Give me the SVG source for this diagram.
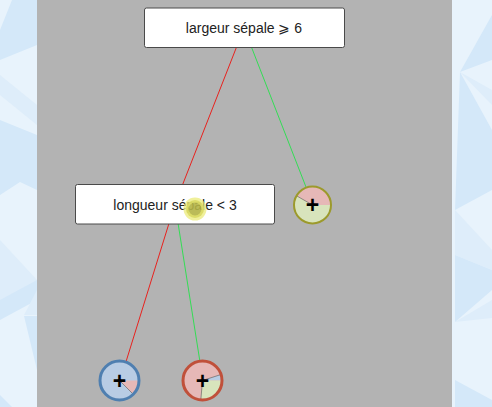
<svg xmlns="http://www.w3.org/2000/svg" width="492" height="407" viewBox="0 0 492 407">
<defs>
<style>
.bg1{fill:#e8f3fc}
.bg2{fill:#d4e8f9}
.bg3{fill:#deedfa}
.box{fill:#ffffff;stroke:#4a4a4a;stroke-width:1}
.lbl{font-family:"Liberation Sans",Arial,sans-serif;font-size:14px;fill:#222;text-anchor:middle}
.plus{font-family:"Liberation Sans",Arial,sans-serif;font-size:23px;font-weight:bold;fill:#000;text-anchor:middle}
.link{fill:none;stroke-width:1}
.sep{stroke:#555;stroke-width:0.6}
</style>
</defs>
<rect x="0" y="0" width="492" height="407" class="bg1"/>
<polygon class="bg2" points="37,0 12,0 0,30 0,60 37,45"/>
<polygon class="bg3" points="0,75 37,105 37,125 0,95"/>
<polygon class="bg2" points="0,120 37,135 37,190 20,182 0,195"/>
<polygon class="bg3" points="0,240 37,280 37,300 0,300"/>
<polygon class="bg2" points="0,300 37,280 37,300 0,320"/>
<polygon class="bg3" points="37,290 24,315 37,315"/>
<polygon class="bg2" points="24,316 37,316 37,370"/>
<polygon class="bg2" points="0,395 12,407 0,407"/>
<polygon class="bg2" points="492,15 460,72 492,60"/>
<polygon class="bg3" points="460,72 492,90 492,105"/>
<polygon class="bg2" points="460,72 455,210 492,190 492,130"/>
<polygon class="bg3" points="455,210 492,250 492,270 455,255"/>
<polygon class="bg2" points="455,255 492,270 492,290 455,322"/>
<polygon class="bg3" points="455,322 492,300 492,318"/>
<polygon class="bg2" points="455,380 492,400 492,407 455,407"/>
<rect x="37" y="0" width="415" height="407" fill="#b3b3b3"/>
<g id="connectors">
<line class="link" x1="244" y1="28" x2="175" y2="204" stroke="#e8221e"/>
<line class="link" x1="244" y1="28" x2="313" y2="205" stroke="#33dd55"/>
<line class="link" x1="175" y1="204" x2="120" y2="381" stroke="#e8221e"/>
<line class="link" x1="175" y1="204" x2="203" y2="381" stroke="#33dd55"/>
</g>
<g id="node-root">
<rect class="box" x="144.5" y="8" width="200" height="39.5" rx="2"/>
<text class="lbl" x="244" y="33">largeur sépale ⩾ 6</text>
</g>
<g id="node-left">
<rect class="box" x="75.5" y="184.5" width="199" height="39.5" rx="2"/>
<text class="lbl" x="175" y="210">longueur sépale &lt; 3</text>
</g>
<g id="leaf-right">
<circle cx="312.5" cy="205" r="18.5" fill="#d8e4bc"/>
<path d="M312.5,205 L296.5,195.75 A18.5,18.5 0 0 1 331,205 Z" fill="#e6b8b7"/>
<line class="sep" x1="312.5" y1="205" x2="296.5" y2="195.75"/>
<circle cx="312.5" cy="205" r="18.5" fill="none" stroke="#9c9a2c" stroke-width="2"/>
<text class="plus" x="312.5" y="213">+</text>
</g>
<g id="leaf-bl">
<circle cx="119.5" cy="380.5" r="19.5" fill="#b8cce4"/>
<path d="M119.5,380.5 L139,380.5 A19.5,19.5 0 0 1 133.3,394.3 Z" fill="#e6b8b7"/>
<line class="sep" x1="119.5" y1="380.5" x2="133.3" y2="394.3"/>
<circle cx="119.5" cy="380.5" r="19.5" fill="none" stroke="#4f7fb0" stroke-width="3"/>
<text class="plus" x="119.5" y="388.5">+</text>
</g>
<g id="leaf-br">
<circle cx="202.5" cy="380.5" r="19.5" fill="#e6b8b7"/>
<path d="M202.5,380.5 L221,374.5 A19.5,19.5 0 0 1 222,380.5 Z" fill="#b8cce4"/>
<path d="M202.5,380.5 L222,380.5 A19.5,19.5 0 0 1 200.8,400 Z" fill="#d8e4bc"/>
<line class="sep" x1="202.5" y1="380.5" x2="221" y2="374.5"/>
<line class="sep" x1="202.5" y1="380.5" x2="200.8" y2="400"/>
<circle cx="202.5" cy="380.5" r="19.5" fill="none" stroke="#c0503a" stroke-width="3"/>
<text class="plus" x="202.5" y="388.5">+</text>
</g>
<circle cx="195" cy="209" r="9" fill="#b4b446" fill-opacity="0.9" stroke="#eaea70" stroke-opacity="0.7" stroke-width="5"/>
</svg>
